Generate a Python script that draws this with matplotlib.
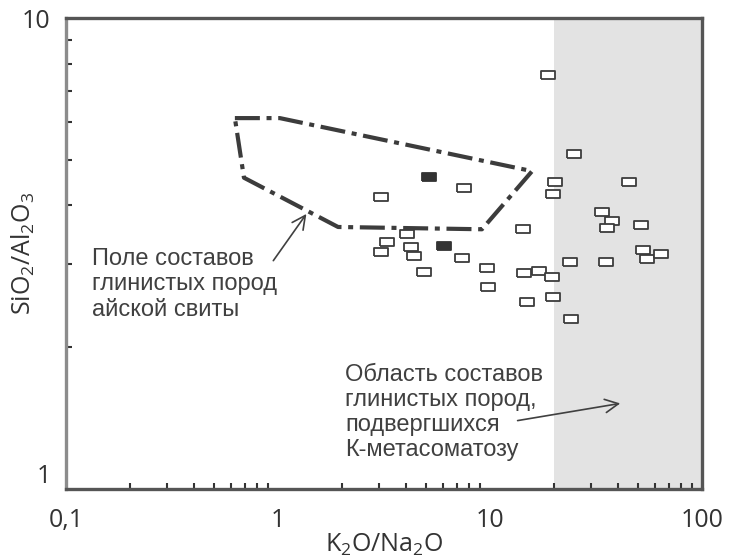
import matplotlib
matplotlib.use("Agg")
import matplotlib.pyplot as plt
from matplotlib.ticker import LogLocator, FixedLocator, NullFormatter

# -------------------
# DATA
# -------------------
# open squares: K2O/Na2O, SiO2/Al2O3
x_open = [18.8, 25.0, 20.3, 19.9, 45.3, 33.6, 37.5, 35.6, 51.6, 14.3,
          4.05, 3.28, 3.06, 4.23, 4.37, 7.56, 3.06, 7.38, 9.65, 4.90,
          9.75, 14.5, 17.1, 19.7, 23.8, 35.3, 52.9, 54.8, 63.9, 14.9,
          19.9, 24.1]
y_open = [7.55, 5.14, 4.49, 4.22, 4.48, 3.87, 3.71, 3.58, 3.63, 3.56,
          3.48, 3.35, 3.19, 3.26, 3.13, 4.35, 4.16, 3.10, 2.95, 2.89,
          2.68, 2.87, 2.91, 2.82, 3.04, 3.03, 3.22, 3.08, 3.16, 2.49,
          2.56, 2.30]

# filled squares
x_fill = [5.17, 6.09]
y_fill = [4.60, 3.28]

# field of aiskaya suite clays (closed outline)
field_x = [0.626, 1.02, 15.8, 9.16, 1.92, 0.691, 0.626]
field_y = [6.13, 6.13, 4.73, 3.56, 3.60, 4.58, 6.13]

K_META_MIN = 20  # start of K-metasomatism area

x_ticks = [0.1, 1, 10, 100]
x_ticklabels = ["0,1", "1", "10", "100"]
y_ticks = [1, 10]
y_ticklabels = ["1", "10"]

TEXT_COLOR = "#404040"
LINE_COLOR = "#3c3c3c"

plt.rcParams["mathtext.fontset"] = "custom"
plt.rcParams["mathtext.rm"] = "Open Sans"

fig = plt.figure(figsize=(7.29, 5.59), dpi=100)
ax = fig.add_axes([66 / 729, 1 - 489 / 559, 636 / 729, 471 / 559])
ax.set_xscale("log")
ax.set_yscale("log")
ax.set_xlim(0.1, 100)
ax.set_ylim(1, 10)

# shaded area
ax.axvspan(K_META_MIN, 100, color="#e3e3e3", zorder=0, lw=0)

# field outline
ax.plot(field_x, field_y, color=LINE_COLOR, lw=3.0,
        dashes=(6, 1.6, 1.2, 1.6), solid_capstyle="butt", zorder=2)

rect = [(-1, -0.56), (1, -0.56), (1, 0.56), (-1, 0.56), (-1, -0.56)]
ax.plot(x_open, y_open, ls="none", marker=rect, markersize=10.5,
        markerfacecolor="white", markeredgecolor=LINE_COLOR,
        markeredgewidth=1.3, zorder=3)
ax.plot(x_fill, y_fill, ls="none", marker=rect, markersize=10.5,
        markerfacecolor="#333333", markeredgecolor="#333333",
        markeredgewidth=1.3, zorder=3)

# axes styling
for side in ["left", "right", "top", "bottom"]:
    ax.spines[side].set_color("#555555")
    ax.spines[side].set_linewidth(2.4)
ax.spines["left"].set_color("#8c8c8c")

ax.xaxis.set_major_locator(FixedLocator(x_ticks))
ax.set_xticklabels(x_ticklabels)
ax.yaxis.set_major_locator(FixedLocator(y_ticks))
ax.set_yticklabels(y_ticklabels)
ax.xaxis.set_minor_locator(LogLocator(base=10, subs=range(2, 10)))
ax.yaxis.set_minor_locator(LogLocator(base=10, subs=range(2, 10)))
ax.xaxis.set_minor_formatter(NullFormatter())
ax.yaxis.set_minor_formatter(NullFormatter())

ax.tick_params(which="major", length=0, labelsize=18, labelcolor="#333333")
ax.tick_params(axis="x", which="major", pad=14)
ax.tick_params(axis="y", which="major", pad=11)
ax.tick_params(which="minor", direction="in", length=4, width=1.5,
               color="#333333")
for lbl in ax.get_xticklabels() + ax.get_yticklabels():
    lbl.set_family("Open Sans")
ax.get_yticklabels()[0].set_verticalalignment("bottom")

ax.set_xlabel(r"K$_\mathregular{2}$O/Na$_\mathregular{2}$O",
              fontsize=18, family="Open Sans", color="#333333", labelpad=-1)
ax.set_ylabel(r"SiO$_\mathregular{2}$/Al$_\mathregular{2}$O$_\mathregular{3}$",
              fontsize=18, family="Open Sans", color="#333333")
ax.yaxis.set_label_coords(-0.045, 0.50)

# annotations
ax.text(0.041, 0.512, "Поле составов\nглинистых пород\nайской свиты",
        transform=ax.transAxes, ha="left", va="top", fontsize=17,
        family="Liberation Sans", color=TEXT_COLOR, linespacing=1.2)
ax.annotate("", xy=(1.385, 3.88), xytext=(0.934, 3.02),
            arrowprops=dict(arrowstyle="->", color=TEXT_COLOR, lw=1.2,
                            mutation_scale=24))

ax.text(0.4387, 0.266,
        "Область составов\nглинистых пород,\nподвергшихся\nК-метасоматозу",
        transform=ax.transAxes, ha="left", va="top", fontsize=17,
        family="Liberation Sans", color=TEXT_COLOR, linespacing=1.18)
ax.annotate("", xy=(42.4, 1.523), xytext=(13.1, 1.394),
            arrowprops=dict(arrowstyle="->", color=TEXT_COLOR, lw=1.2,
                            mutation_scale=24))

fig.savefig("out.png", dpi=100)
